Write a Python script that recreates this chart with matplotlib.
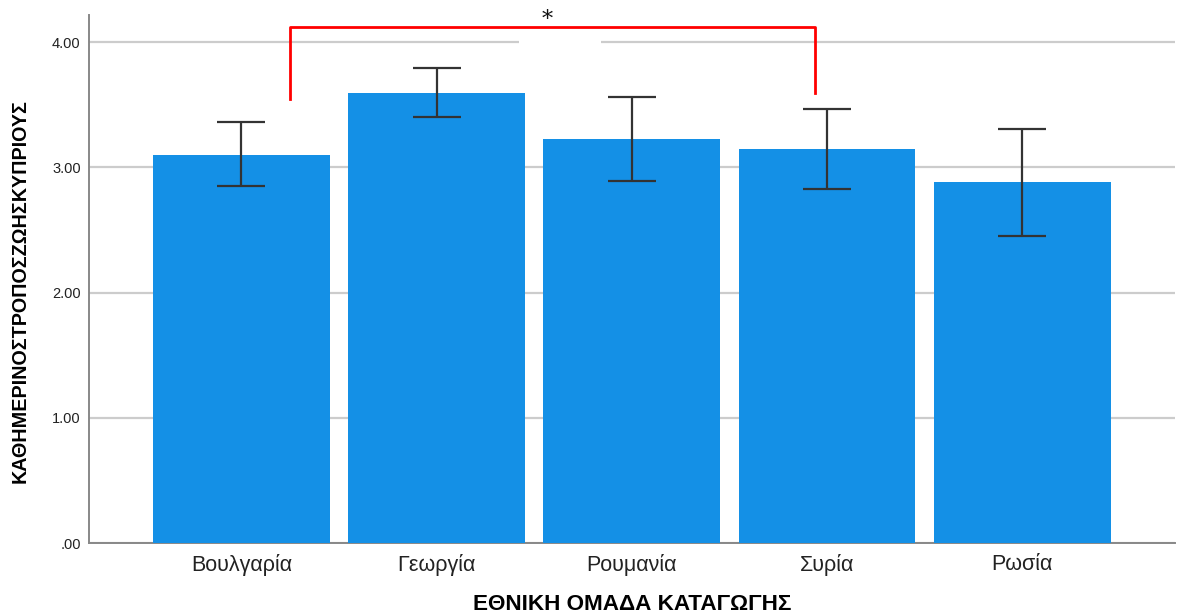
import matplotlib
matplotlib.use("Agg")
import matplotlib.pyplot as plt
from matplotlib.patches import Rectangle

categories = ["Βουλγαρία", "Γεωργία", "Ρουμανία", "Συρία", "Ρωσία"]
means = [3.10, 3.59, 3.23, 3.15, 2.88]
err_low = [2.85, 3.40, 2.89, 2.83, 2.45]
err_high = [3.36, 3.79, 3.56, 3.47, 3.31]
yticks = [0, 1, 2, 3, 4]
ytick_labels = [".00", "1.00", "2.00", "3.00", "4.00"]

plt.rcParams['font.family'] = ['Liberation Sans', 'DejaVu Sans']

fig = plt.figure(figsize=(11.77, 6.16), dpi=100)
ax = fig.add_axes([0.0756, 0.1185, 0.9224, 0.857])

x = list(range(len(categories)))
ax.bar(x, means, width=0.906, color="#1490E6", zorder=3)
yerr = [[m - lo for m, lo in zip(means, err_low)], [hi - m for m, hi in zip(means, err_high)]]
ax.errorbar(x, means, yerr=yerr, fmt="none", ecolor="#333333", elinewidth=1.6,
            capsize=17.5, capthick=1.6, zorder=4)

ax.set_xlim(-0.781, 4.781)
ax.set_ylim(0, 4.216)
ax.set_yticks(yticks)
ax.set_yticklabels(ytick_labels, fontsize=10.5, color="#222222")
ax.set_xticks(x)
ax.set_xticklabels(categories, fontsize=15.5, color="#222222")
ax.tick_params(axis="y", length=0, pad=6)
ax.tick_params(axis="x", length=0, pad=8)
ax.grid(axis="y", color="#CCCCCC", linewidth=1.6, zorder=0)
ax.set_axisbelow(True)
for s in ["top", "right"]:
    ax.spines[s].set_visible(False)
for s in ["left", "bottom"]:
    ax.spines[s].set_color("#888888")
    ax.spines[s].set_linewidth(1.4)

# gap in the 4.00 gridline
ax.add_patch(Rectangle((1.421, 3.97), 0.42, 0.06, facecolor="white", edgecolor="none", zorder=1))

# significance bracket
bx0, bx1 = 0.248, 2.937
ax.plot([bx0, bx0, bx1, bx1], [3.545, 4.12, 4.12, 3.593], color="#FF0000", linewidth=2,
        zorder=5, clip_on=False)
ax.text(1.565, 4.18, "*", fontsize=16, family="DejaVu Serif", ha="center", va="center",
        color="#111111", clip_on=False)

fig.text(632, 616 - 605, "ΕΘΝΙΚΗ ΟΜΑΔΑ ΚΑΤΑΓΩΓΗΣ", fontsize=16.2, fontweight="bold",
         ha="center", va="center", transform=None)
fig.text(20, 616 - 291, "ΚΑΘΗΜΕΡΙΝΟΣΤΡΟΠΟΣΖΩΗΣΚΥΠΡΙΟΥΣ", fontsize=14.2, fontweight="bold",
         ha="center", va="center", rotation=90, transform=None)

fig.savefig("out.png", dpi=100)
